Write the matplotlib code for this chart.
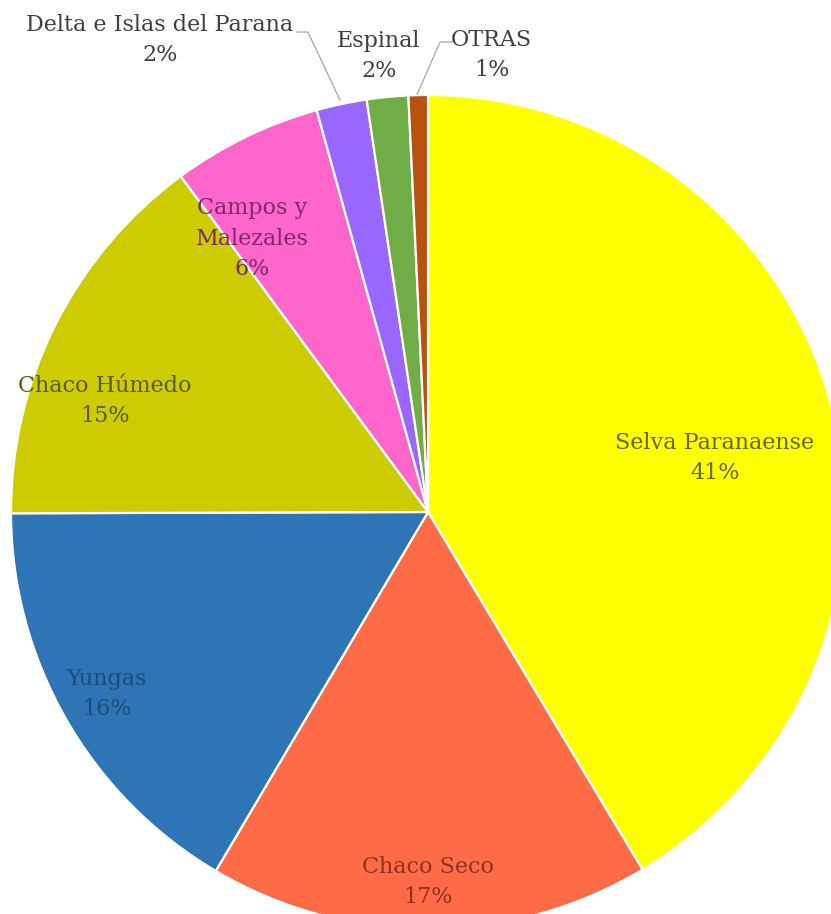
import matplotlib.pyplot as plt

# ecorregiones y su participacion (%)
regiones = ['Selva Paranaense', 'Chaco Seco', 'Yungas', 'Chaco Húmedo',
            'Campos y\nMalezales', 'Delta e Islas del Parana', 'Espinal', 'OTRAS']
valores = [41.4, 17.1, 16.45, 14.95, 5.8, 1.95, 1.6, 0.75]

colores = ['#FFFF00', '#FF6B47', '#2E75B6', '#CCCC00',
           '#FF66CC', '#9966FF', '#70AD47', '#B8520F']
colores_texto = ['#66660A', '#8E3222', '#1F4A7A', '#5C5C00',
                 '#7E2A66', '#404040', '#404040', '#404040']
# posicion de cada etiqueta (coordenadas del pie, radio = 1)
pos_etiquetas = [(0.688, 0.129), (0.0, -0.887), (-0.770, -0.436), (-0.775, 0.266),
                 (-0.422, 0.655), (-0.643, 1.132), (-0.118, 1.094), (0.153, 1.096)]

fig = plt.figure(figsize=(8.31, 9.14), dpi=100)
ax = fig.add_axes([11 / 831, -15 / 914, 834 / 831, 834 / 914])

wedges, _ = ax.pie(valores, colors=colores, startangle=90, counterclock=False,
                   radius=1, wedgeprops=dict(edgecolor='white', linewidth=1.6))
ax.set_xlim(-1, 1)
ax.set_ylim(-1, 1)
ax.axis('off')

for nombre, v, (x, y), c in zip(regiones, valores, pos_etiquetas, colores_texto):
    ax.text(x, y, f'{nombre}\n{v:.0f}%', ha='center', va='center', color=c,
            family='DejaVu Serif', fontsize=16, linespacing=1.5, clip_on=False)

# lineas guia de las etiquetas exteriores
guia = dict(color='#A6A6A6', lw=0.9, clip_on=False)
ax.plot([-0.314, -0.288, -0.211], [1.151, 1.151, 0.988], **guia)
ax.plot([0.058, 0.029, -0.026], [1.127, 1.127, 1.002], **guia)

plt.savefig('out.png', dpi=100)
